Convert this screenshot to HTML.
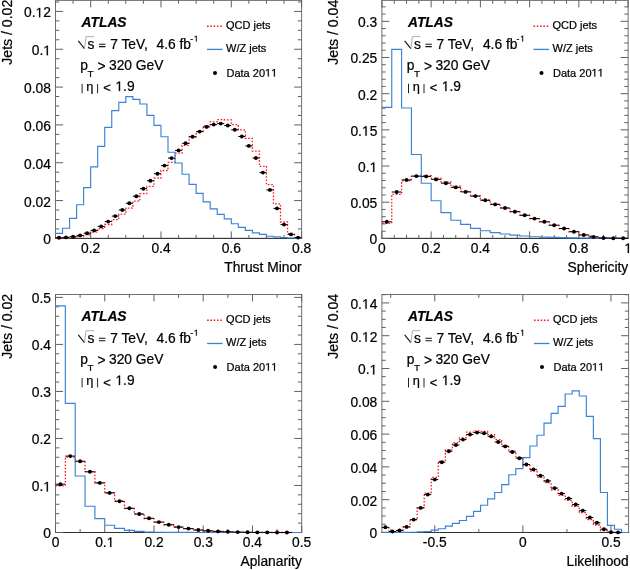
<!DOCTYPE html><html><head><meta charset="utf-8"><style>html,body{margin:0;padding:0;background:#fff;overflow:hidden}svg{display:block;will-change:transform}text{stroke:#000;stroke-width:0.22px}text.b{stroke-width:0.2px}</style></head><body>
<svg width="630" height="570" viewBox="0 0 630 570" font-family='"Liberation Sans", sans-serif'>
<rect width="630" height="570" fill="#fff"/>
<rect x="55.5" y="0.4" width="246.1" height="238" fill="none" stroke="#707070" stroke-width="1"/>
<path d="M55 238.4 H302.1" stroke="#303030" stroke-width="1"/>
<path d="M55.5 238.4 h7.5 M301.6 238.4 h-7.5 M55.5 228.94 h3.8 M301.6 228.94 h-3.8 M55.5 219.49 h3.8 M301.6 219.49 h-3.8 M55.5 210.03 h3.8 M301.6 210.03 h-3.8 M55.5 200.57 h7.5 M301.6 200.57 h-7.5 M55.5 191.11 h3.8 M301.6 191.11 h-3.8 M55.5 181.66 h3.8 M301.6 181.66 h-3.8 M55.5 172.2 h3.8 M301.6 172.2 h-3.8 M55.5 162.74 h7.5 M301.6 162.74 h-7.5 M55.5 153.28 h3.8 M301.6 153.28 h-3.8 M55.5 143.83 h3.8 M301.6 143.83 h-3.8 M55.5 134.37 h3.8 M301.6 134.37 h-3.8 M55.5 124.91 h7.5 M301.6 124.91 h-7.5 M55.5 115.45 h3.8 M301.6 115.45 h-3.8 M55.5 106 h3.8 M301.6 106 h-3.8 M55.5 96.54 h3.8 M301.6 96.54 h-3.8 M55.5 87.08 h7.5 M301.6 87.08 h-7.5 M55.5 77.62 h3.8 M301.6 77.62 h-3.8 M55.5 68.17 h3.8 M301.6 68.17 h-3.8 M55.5 58.71 h3.8 M301.6 58.71 h-3.8 M55.5 49.25 h7.5 M301.6 49.25 h-7.5 M55.5 39.79 h3.8 M301.6 39.79 h-3.8 M55.5 30.34 h3.8 M301.6 30.34 h-3.8 M55.5 20.88 h3.8 M301.6 20.88 h-3.8 M55.5 11.42 h7.5 M301.6 11.42 h-7.5 M55.5 1.96 h3.8 M301.6 1.96 h-3.8 M55.5 238.4 v-3.4 M55.5 0.4 v3.4 M73.08 238.4 v-3.4 M73.08 0.4 v3.4 M90.66 238.4 v-7 M90.66 0.4 v7 M108.24 238.4 v-3.4 M108.24 0.4 v3.4 M125.81 238.4 v-3.4 M125.81 0.4 v3.4 M143.39 238.4 v-3.4 M143.39 0.4 v3.4 M160.97 238.4 v-7 M160.97 0.4 v7 M178.55 238.4 v-3.4 M178.55 0.4 v3.4 M196.13 238.4 v-3.4 M196.13 0.4 v3.4 M213.71 238.4 v-3.4 M213.71 0.4 v3.4 M231.29 238.4 v-7 M231.29 0.4 v7 M248.86 238.4 v-3.4 M248.86 0.4 v3.4 M266.44 238.4 v-3.4 M266.44 0.4 v3.4 M284.02 238.4 v-3.4 M284.02 0.4 v3.4 M301.6 238.4 v-7 M301.6 0.4 v7 " stroke="#606060" stroke-width="1" fill="none"/>
<path d="M55.5 238.2 V238.2 H62.53 V237.9 H69.56 V237.3 H76.59 V236.5 H83.63 V234.9 H90.66 V232.1 H97.69 V228.6 H104.72 V224.5 H111.75 V219.7 H118.78 V214.2 H125.81 V208.1 H132.85 V201.2 H139.88 V193.7 H146.91 V186.4 H153.94 V178.2 H160.97 V170.5 H168 V162.3 H175.03 V153.2 H182.07 V145.4 H189.1 V137 H196.13 V131.7 H203.16 V126 H210.19 V121.8 H217.22 V119.6 H224.25 V119.9 H231.29 V124.6 H238.32 V129.9 H245.35 V138.3 H252.38 V151.2 H259.41 V166.3 H266.44 V184.6 H273.47 V203.8 H280.51 V222 H287.54 V233.7 H294.57 V238.2 H301.6" fill="none" stroke="#ff1a1a" stroke-width="1.3" stroke-dasharray="1.6 1.7"/>
<path d="M55.5 233.4 V233.4 H62.53 V228.2 H69.56 V218.3 H76.59 V204.7 H83.63 V187.6 H90.66 V166.9 H97.69 V146.4 H104.72 V127.3 H111.75 V110.6 H118.78 V102.4 H125.81 V96.6 H132.85 V99.4 H139.88 V104 H146.91 V115.3 H153.94 V125.4 H160.97 V136.7 H168 V152.2 H175.03 V163 H182.07 V174.2 H189.1 V184.3 H196.13 V193.4 H203.16 V201.8 H210.19 V208.9 H217.22 V214.4 H224.25 V218.9 H231.29 V223.7 H238.32 V227.4 H245.35 V230.4 H252.38 V232.8 H259.41 V234.4 H266.44 V236.2 H273.47 V236.9 H280.51 V237.5 H287.54 V238 H294.57 V238.4 H301.6 V238.4" fill="none" stroke="#3b82d6" stroke-width="1.15"/>
<path d="M55.5 237.8 H62.53" stroke="#000" stroke-width="1"/>
<circle cx="59.02" cy="237.8" r="1.95" fill="#000"/>
<path d="M62.53 237.4 H69.56" stroke="#000" stroke-width="1"/>
<circle cx="66.05" cy="237.4" r="1.95" fill="#000"/>
<path d="M69.56 236.7 H76.59" stroke="#000" stroke-width="1"/>
<circle cx="73.08" cy="236.7" r="1.95" fill="#000"/>
<path d="M76.59 235.4 H83.63" stroke="#000" stroke-width="1"/>
<circle cx="80.11" cy="235.4" r="1.95" fill="#000"/>
<path d="M83.63 233.2 H90.66" stroke="#000" stroke-width="1"/>
<circle cx="87.14" cy="233.2" r="1.95" fill="#000"/>
<path d="M90.66 230.4 H97.69" stroke="#000" stroke-width="1"/>
<circle cx="94.17" cy="230.4" r="1.95" fill="#000"/>
<path d="M97.69 226.4 H104.72" stroke="#000" stroke-width="1"/>
<circle cx="101.2" cy="226.4" r="1.95" fill="#000"/>
<path d="M104.72 221.6 H111.75" stroke="#000" stroke-width="1"/>
<circle cx="108.24" cy="221.6" r="1.95" fill="#000"/>
<path d="M111.75 216.1 H118.78" stroke="#000" stroke-width="1"/>
<circle cx="115.27" cy="216.1" r="1.95" fill="#000"/>
<path d="M118.78 210 H125.81" stroke="#000" stroke-width="1"/>
<circle cx="122.3" cy="210" r="1.95" fill="#000"/>
<path d="M125.81 203.2 H132.85" stroke="#000" stroke-width="1"/>
<circle cx="129.33" cy="203.2" r="1.95" fill="#000"/>
<path d="M132.85 196.2 H139.88" stroke="#000" stroke-width="1"/>
<circle cx="136.36" cy="196.2" r="1.95" fill="#000"/>
<path d="M139.88 188.7 H146.91" stroke="#000" stroke-width="1"/>
<circle cx="143.39" cy="188.7" r="1.95" fill="#000"/>
<path d="M146.91 180.8 H153.94" stroke="#000" stroke-width="1"/>
<circle cx="150.42" cy="180.8" r="1.95" fill="#000"/>
<path d="M153.94 173.7 H160.97" stroke="#000" stroke-width="1"/>
<circle cx="157.46" cy="173.7" r="1.95" fill="#000"/>
<path d="M160.97 165.6 H168" stroke="#000" stroke-width="1"/>
<circle cx="164.49" cy="165.6" r="1.95" fill="#000"/>
<path d="M168 158.1 H175.03" stroke="#000" stroke-width="1"/>
<circle cx="171.52" cy="158.1" r="1.95" fill="#000"/>
<path d="M175.03 150.4 H182.07" stroke="#000" stroke-width="1"/>
<circle cx="178.55" cy="150.4" r="1.95" fill="#000"/>
<path d="M182.07 143.3 H189.1" stroke="#000" stroke-width="1"/>
<circle cx="185.58" cy="143.3" r="1.95" fill="#000"/>
<path d="M189.1 136.7 H196.13" stroke="#000" stroke-width="1"/>
<circle cx="192.61" cy="136.7" r="1.95" fill="#000"/>
<path d="M196.13 131.6 H203.16" stroke="#000" stroke-width="1"/>
<circle cx="199.64" cy="131.6" r="1.95" fill="#000"/>
<path d="M203.16 126.9 H210.19" stroke="#000" stroke-width="1"/>
<circle cx="206.68" cy="126.9" r="1.95" fill="#000"/>
<path d="M210.19 124.6 H217.22" stroke="#000" stroke-width="1"/>
<circle cx="213.71" cy="124.6" r="1.95" fill="#000"/>
<path d="M217.22 123.6 H224.25" stroke="#000" stroke-width="1"/>
<circle cx="220.74" cy="123.6" r="1.95" fill="#000"/>
<path d="M224.25 125.5 H231.29" stroke="#000" stroke-width="1"/>
<circle cx="227.77" cy="125.5" r="1.95" fill="#000"/>
<path d="M231.29 129.8 H238.32" stroke="#000" stroke-width="1"/>
<circle cx="234.8" cy="129.8" r="1.95" fill="#000"/>
<path d="M238.32 136.5 H245.35" stroke="#000" stroke-width="1"/>
<circle cx="241.83" cy="136.5" r="1.95" fill="#000"/>
<path d="M245.35 145.9 H252.38" stroke="#000" stroke-width="1"/>
<circle cx="248.86" cy="145.9" r="1.95" fill="#000"/>
<path d="M252.38 158 H259.41" stroke="#000" stroke-width="1"/>
<circle cx="255.9" cy="158" r="1.95" fill="#000"/>
<path d="M259.41 172.6 H266.44" stroke="#000" stroke-width="1"/>
<circle cx="262.93" cy="172.6" r="1.95" fill="#000"/>
<path d="M266.44 189.9 H273.47" stroke="#000" stroke-width="1"/>
<circle cx="269.96" cy="189.9" r="1.95" fill="#000"/>
<path d="M273.47 208.4 H280.51" stroke="#000" stroke-width="1"/>
<circle cx="276.99" cy="208.4" r="1.95" fill="#000"/>
<path d="M280.51 224.6 H287.54" stroke="#000" stroke-width="1"/>
<circle cx="284.02" cy="224.6" r="1.95" fill="#000"/>
<path d="M287.54 234.4 H294.57" stroke="#000" stroke-width="1"/>
<circle cx="291.05" cy="234.4" r="1.95" fill="#000"/>
<path d="M294.57 237.6 H301.6" stroke="#000" stroke-width="1"/>
<circle cx="298.08" cy="237.6" r="1.95" fill="#000"/>
<text x="50.9" y="244.35" font-size="13.8" text-anchor="end">0</text>
<text x="50.9" y="206.52" font-size="13.8" text-anchor="end">0.02</text>
<text x="50.9" y="168.69" font-size="13.8" text-anchor="end">0.04</text>
<text x="50.9" y="130.86" font-size="13.8" text-anchor="end">0.06</text>
<text x="50.9" y="93.03" font-size="13.8" text-anchor="end">0.08</text>
<text x="31.72" y="55.2" font-size="13.8">0.</text>
<path transform="translate(43.23 55.2) scale(0.006738 -0.006738)" d="M515 0V1237L197 1010V1180L530 1409H696V0Z" stroke="#000" stroke-width="0.22" vector-effect="non-scaling-stroke"/>
<text x="24.04" y="17.37" font-size="13.8">0.</text>
<path transform="translate(35.55 17.37) scale(0.006738 -0.006738)" d="M515 0V1237L197 1010V1180L530 1409H696V0Z" stroke="#000" stroke-width="0.22" vector-effect="non-scaling-stroke"/>
<text x="43.23" y="17.37" font-size="13.8">2</text>
<text x="90.66" y="253" font-size="13.8" text-anchor="middle">0.2</text>
<text x="160.97" y="253" font-size="13.8" text-anchor="middle">0.4</text>
<text x="231.29" y="253" font-size="13.8" text-anchor="middle">0.6</text>
<text x="301.6" y="253" font-size="13.8" text-anchor="middle">0.8</text>
<text x="301.7" y="272" font-size="13.8" text-anchor="end">Thrust Minor</text>
<text transform="translate(11.7 -0.3) rotate(-90)" font-size="14.1" text-anchor="end">Jets / 0.02</text>
<text x="81.6" y="27" class="b" font-size="13.8" font-weight="bold" font-style="italic">ATLAS</text>
<path d="M78.3 40.8 L84.5 48.6" stroke="#111" stroke-width="1.1" fill="none"/>
<path d="M84.5 48.6 L86 36.6 H94" stroke="#999" stroke-width="0.8" fill="none"/>
<text x="87.5" y="48.6" font-size="13.8">s</text>
<path d="M99 44.2 H105.4 M99 46.6 H105.4" stroke="#111" stroke-width="1.05" fill="none"/>
<text x="110.13" y="48.6" font-size="13.8">7 TeV,</text>
<text x="156.5" y="48.6" font-size="13.8">4.6 fb</text>
<text x="190.2" y="41.6" font-size="8.5">-</text>
<path transform="translate(193.8 41.6) scale(0.004150 -0.004150)" d="M515 0V1237L197 1010V1180L530 1409H696V0Z" stroke="#000" stroke-width="0.22" vector-effect="non-scaling-stroke"/>
<text x="80.3" y="69.6" font-size="13.8">p</text>
<text x="87.5" y="76.7" font-size="9.9">T</text>
<text x="97.6" y="71" font-size="13.8">&gt;</text>
<text x="109" y="69.6" font-size="13.8">320 GeV</text>
<path d="M82.1 83.8 V93.3 M97.6 84 V93.3" stroke="#222" stroke-width="1" fill="none"/>
<text x="86.3" y="90.8" font-size="12.8" stroke="#000" stroke-width="0.25">η</text>
<text x="103.3" y="92.4" font-size="13">&lt;</text>
<path transform="translate(115.4 91) scale(0.006738 -0.006738)" d="M515 0V1237L197 1010V1180L530 1409H696V0Z" stroke="#000" stroke-width="0.22" vector-effect="non-scaling-stroke"/>
<text x="123.07" y="91" font-size="13.8">.9</text>
<path d="M207 26.2 h15.5" stroke="#ff1a1a" stroke-width="1.4" stroke-dasharray="1.6 1.7"/>
<path d="M207 49.4 h15.5" stroke="#3b82d6" stroke-width="1.3"/>
<circle cx="215" cy="73" r="2" fill="#000"/>
<text x="226" y="28.9" font-size="11">QCD jets</text>
<text x="226" y="51.9" font-size="11">W/Z jets</text>
<text x="226.5" y="76.6" font-size="11">Data 20</text>
<path transform="translate(265.03 76.6) scale(0.005371 -0.005371)" d="M515 0V1237L197 1010V1180L530 1409H696V0Z" stroke="#000" stroke-width="0.22" vector-effect="non-scaling-stroke"/>
<path transform="translate(271.14 76.6) scale(0.005371 -0.005371)" d="M515 0V1237L197 1010V1180L530 1409H696V0Z" stroke="#000" stroke-width="0.22" vector-effect="non-scaling-stroke"/>
<rect x="381.9" y="0.4" width="246.2" height="238" fill="none" stroke="#707070" stroke-width="1"/>
<path d="M381.4 238.4 H628.6" stroke="#303030" stroke-width="1"/>
<path d="M381.9 238.4 h7.5 M628.1 238.4 h-7.5 M381.9 231.16 h3.8 M628.1 231.16 h-3.8 M381.9 223.93 h3.8 M628.1 223.93 h-3.8 M381.9 216.69 h3.8 M628.1 216.69 h-3.8 M381.9 209.46 h3.8 M628.1 209.46 h-3.8 M381.9 202.22 h7.5 M628.1 202.22 h-7.5 M381.9 194.98 h3.8 M628.1 194.98 h-3.8 M381.9 187.75 h3.8 M628.1 187.75 h-3.8 M381.9 180.51 h3.8 M628.1 180.51 h-3.8 M381.9 173.28 h3.8 M628.1 173.28 h-3.8 M381.9 166.04 h7.5 M628.1 166.04 h-7.5 M381.9 158.8 h3.8 M628.1 158.8 h-3.8 M381.9 151.57 h3.8 M628.1 151.57 h-3.8 M381.9 144.33 h3.8 M628.1 144.33 h-3.8 M381.9 137.1 h3.8 M628.1 137.1 h-3.8 M381.9 129.86 h7.5 M628.1 129.86 h-7.5 M381.9 122.62 h3.8 M628.1 122.62 h-3.8 M381.9 115.39 h3.8 M628.1 115.39 h-3.8 M381.9 108.15 h3.8 M628.1 108.15 h-3.8 M381.9 100.92 h3.8 M628.1 100.92 h-3.8 M381.9 93.68 h7.5 M628.1 93.68 h-7.5 M381.9 86.44 h3.8 M628.1 86.44 h-3.8 M381.9 79.21 h3.8 M628.1 79.21 h-3.8 M381.9 71.97 h3.8 M628.1 71.97 h-3.8 M381.9 64.74 h3.8 M628.1 64.74 h-3.8 M381.9 57.5 h7.5 M628.1 57.5 h-7.5 M381.9 50.26 h3.8 M628.1 50.26 h-3.8 M381.9 43.03 h3.8 M628.1 43.03 h-3.8 M381.9 35.79 h3.8 M628.1 35.79 h-3.8 M381.9 28.56 h3.8 M628.1 28.56 h-3.8 M381.9 21.32 h7.5 M628.1 21.32 h-7.5 M381.9 14.08 h3.8 M628.1 14.08 h-3.8 M381.9 6.85 h3.8 M628.1 6.85 h-3.8 M381.9 238.4 v-7 M381.9 0.4 v7 M394.21 238.4 v-3.4 M394.21 0.4 v3.4 M406.52 238.4 v-3.4 M406.52 0.4 v3.4 M418.83 238.4 v-3.4 M418.83 0.4 v3.4 M431.14 238.4 v-7 M431.14 0.4 v7 M443.45 238.4 v-3.4 M443.45 0.4 v3.4 M455.76 238.4 v-3.4 M455.76 0.4 v3.4 M468.07 238.4 v-3.4 M468.07 0.4 v3.4 M480.38 238.4 v-7 M480.38 0.4 v7 M492.69 238.4 v-3.4 M492.69 0.4 v3.4 M505 238.4 v-3.4 M505 0.4 v3.4 M517.31 238.4 v-3.4 M517.31 0.4 v3.4 M529.62 238.4 v-7 M529.62 0.4 v7 M541.93 238.4 v-3.4 M541.93 0.4 v3.4 M554.24 238.4 v-3.4 M554.24 0.4 v3.4 M566.55 238.4 v-3.4 M566.55 0.4 v3.4 M578.86 238.4 v-7 M578.86 0.4 v7 M591.17 238.4 v-3.4 M591.17 0.4 v3.4 M603.48 238.4 v-3.4 M603.48 0.4 v3.4 M615.79 238.4 v-3.4 M615.79 0.4 v3.4 M628.1 238.4 v-7 M628.1 0.4 v7 " stroke="#606060" stroke-width="1" fill="none"/>
<path d="M381.9 223.4 V223.4 H391.75 V194.4 H401.6 V180.8 H411.44 V176.4 H421.29 V175.7 H431.14 V178.2 H440.99 V181.8 H450.84 V186.1 H460.68 V191.4 H470.53 V195.8 H480.38 V200 H490.23 V204.2 H500.08 V207.8 H509.92 V211.5 H519.77 V215.2 H529.62 V218.6 H539.47 V221.9 H549.32 V225.3 H559.16 V228.7 H569.01 V231.9 H578.86 V234.9 H588.71 V236.9 H598.56 V237.9 H608.4 V238.2 H618.25 V238.4 H628.1" fill="none" stroke="#ff1a1a" stroke-width="1.3" stroke-dasharray="1.6 1.7"/>
<path d="M381.9 107.3 V107.3 H391.75 V49.4 H401.6 V108 H411.44 V154.5 H421.29 V183.2 H431.14 V200.7 H440.99 V212.6 H450.84 V220.2 H460.68 V224.3 H470.53 V228.3 H480.38 V230.7 H490.23 V232.6 H500.08 V234 H509.92 V235.1 H519.77 V236 H529.62 V236.7 H539.47 V237.1 H549.32 V237.4 H559.16 V237.6 H569.01 V237.8 H578.86 V238 H588.71 V238.1 H598.56 V238.2 H608.4 V238.3 H618.25 V238.4 H628.1 V238.4" fill="none" stroke="#3b82d6" stroke-width="1.15"/>
<path d="M381.9 221.8 H391.75" stroke="#000" stroke-width="1"/>
<circle cx="386.82" cy="221.8" r="1.95" fill="#000"/>
<path d="M391.75 192 H401.6" stroke="#000" stroke-width="1"/>
<circle cx="396.67" cy="192" r="1.95" fill="#000"/>
<path d="M401.6 179.9 H411.44" stroke="#000" stroke-width="1"/>
<circle cx="406.52" cy="179.9" r="1.95" fill="#000"/>
<path d="M411.44 176.1 H421.29" stroke="#000" stroke-width="1"/>
<circle cx="416.37" cy="176.1" r="1.95" fill="#000"/>
<path d="M421.29 176.4 H431.14" stroke="#000" stroke-width="1"/>
<circle cx="426.22" cy="176.4" r="1.95" fill="#000"/>
<path d="M431.14 179.4 H440.99" stroke="#000" stroke-width="1"/>
<circle cx="436.06" cy="179.4" r="1.95" fill="#000"/>
<path d="M440.99 183.2 H450.84" stroke="#000" stroke-width="1"/>
<circle cx="445.91" cy="183.2" r="1.95" fill="#000"/>
<path d="M450.84 187.4 H460.68" stroke="#000" stroke-width="1"/>
<circle cx="455.76" cy="187.4" r="1.95" fill="#000"/>
<path d="M460.68 191.9 H470.53" stroke="#000" stroke-width="1"/>
<circle cx="465.61" cy="191.9" r="1.95" fill="#000"/>
<path d="M470.53 196.1 H480.38" stroke="#000" stroke-width="1"/>
<circle cx="475.46" cy="196.1" r="1.95" fill="#000"/>
<path d="M480.38 200.3 H490.23" stroke="#000" stroke-width="1"/>
<circle cx="485.3" cy="200.3" r="1.95" fill="#000"/>
<path d="M490.23 204.4 H500.08" stroke="#000" stroke-width="1"/>
<circle cx="495.15" cy="204.4" r="1.95" fill="#000"/>
<path d="M500.08 208 H509.92" stroke="#000" stroke-width="1"/>
<circle cx="505" cy="208" r="1.95" fill="#000"/>
<path d="M509.92 211.7 H519.77" stroke="#000" stroke-width="1"/>
<circle cx="514.85" cy="211.7" r="1.95" fill="#000"/>
<path d="M519.77 215.3 H529.62" stroke="#000" stroke-width="1"/>
<circle cx="524.7" cy="215.3" r="1.95" fill="#000"/>
<path d="M529.62 218.6 H539.47" stroke="#000" stroke-width="1"/>
<circle cx="534.54" cy="218.6" r="1.95" fill="#000"/>
<path d="M539.47 221.8 H549.32" stroke="#000" stroke-width="1"/>
<circle cx="544.39" cy="221.8" r="1.95" fill="#000"/>
<path d="M549.32 225.2 H559.16" stroke="#000" stroke-width="1"/>
<circle cx="554.24" cy="225.2" r="1.95" fill="#000"/>
<path d="M559.16 228.5 H569.01" stroke="#000" stroke-width="1"/>
<circle cx="564.09" cy="228.5" r="1.95" fill="#000"/>
<path d="M569.01 231.7 H578.86" stroke="#000" stroke-width="1"/>
<circle cx="573.94" cy="231.7" r="1.95" fill="#000"/>
<path d="M578.86 235 H588.71" stroke="#000" stroke-width="1"/>
<circle cx="583.78" cy="235" r="1.95" fill="#000"/>
<path d="M588.71 236.9 H598.56" stroke="#000" stroke-width="1"/>
<circle cx="593.63" cy="236.9" r="1.95" fill="#000"/>
<path d="M598.56 238 H608.4" stroke="#000" stroke-width="1"/>
<circle cx="603.48" cy="238" r="1.95" fill="#000"/>
<path d="M608.4 238.2 H618.25" stroke="#000" stroke-width="1"/>
<circle cx="613.33" cy="238.2" r="1.95" fill="#000"/>
<path d="M618.25 238.3 H628.1" stroke="#000" stroke-width="1"/>
<circle cx="623.18" cy="238.3" r="1.95" fill="#000"/>
<text x="377.3" y="244.35" font-size="13.8" text-anchor="end">0</text>
<text x="377.3" y="208.17" font-size="13.8" text-anchor="end">0.05</text>
<text x="358.12" y="171.99" font-size="13.8">0.</text>
<path transform="translate(369.63 171.99) scale(0.006738 -0.006738)" d="M515 0V1237L197 1010V1180L530 1409H696V0Z" stroke="#000" stroke-width="0.22" vector-effect="non-scaling-stroke"/>
<text x="350.44" y="135.81" font-size="13.8">0.</text>
<path transform="translate(361.95 135.81) scale(0.006738 -0.006738)" d="M515 0V1237L197 1010V1180L530 1409H696V0Z" stroke="#000" stroke-width="0.22" vector-effect="non-scaling-stroke"/>
<text x="369.63" y="135.81" font-size="13.8">5</text>
<text x="377.3" y="99.63" font-size="13.8" text-anchor="end">0.2</text>
<text x="377.3" y="63.45" font-size="13.8" text-anchor="end">0.25</text>
<text x="377.3" y="27.27" font-size="13.8" text-anchor="end">0.3</text>
<text x="381.9" y="253" font-size="13.8" text-anchor="middle">0</text>
<text x="431.14" y="253" font-size="13.8" text-anchor="middle">0.2</text>
<text x="480.38" y="253" font-size="13.8" text-anchor="middle">0.4</text>
<text x="529.62" y="253" font-size="13.8" text-anchor="middle">0.6</text>
<text x="578.86" y="253" font-size="13.8" text-anchor="middle">0.8</text>
<path transform="translate(624.26 253) scale(0.006738 -0.006738)" d="M515 0V1237L197 1010V1180L530 1409H696V0Z" stroke="#000" stroke-width="0.22" vector-effect="non-scaling-stroke"/>
<text x="628.2" y="272" font-size="13.8" text-anchor="end">Sphericity</text>
<text transform="translate(338.1 -0.3) rotate(-90)" font-size="14.1" text-anchor="end">Jets / 0.04</text>
<text x="408" y="27" class="b" font-size="13.8" font-weight="bold" font-style="italic">ATLAS</text>
<path d="M404.7 40.8 L410.9 48.6" stroke="#111" stroke-width="1.1" fill="none"/>
<path d="M410.9 48.6 L412.4 36.6 H420.4" stroke="#999" stroke-width="0.8" fill="none"/>
<text x="413.9" y="48.6" font-size="13.8">s</text>
<path d="M425.4 44.2 H431.8 M425.4 46.6 H431.8" stroke="#111" stroke-width="1.05" fill="none"/>
<text x="436.53" y="48.6" font-size="13.8">7 TeV,</text>
<text x="482.9" y="48.6" font-size="13.8">4.6 fb</text>
<text x="516.6" y="41.6" font-size="8.5">-</text>
<path transform="translate(520.2 41.6) scale(0.004150 -0.004150)" d="M515 0V1237L197 1010V1180L530 1409H696V0Z" stroke="#000" stroke-width="0.22" vector-effect="non-scaling-stroke"/>
<text x="406.7" y="69.6" font-size="13.8">p</text>
<text x="413.9" y="76.7" font-size="9.9">T</text>
<text x="424" y="71" font-size="13.8">&gt;</text>
<text x="435.4" y="69.6" font-size="13.8">320 GeV</text>
<path d="M408.5 83.8 V93.3 M424 84 V93.3" stroke="#222" stroke-width="1" fill="none"/>
<text x="412.7" y="90.8" font-size="12.8" stroke="#000" stroke-width="0.25">η</text>
<text x="429.7" y="92.4" font-size="13">&lt;</text>
<path transform="translate(441.8 91) scale(0.006738 -0.006738)" d="M515 0V1237L197 1010V1180L530 1409H696V0Z" stroke="#000" stroke-width="0.22" vector-effect="non-scaling-stroke"/>
<text x="449.47" y="91" font-size="13.8">.9</text>
<path d="M533.5 26.2 h15.5" stroke="#ff1a1a" stroke-width="1.4" stroke-dasharray="1.6 1.7"/>
<path d="M533.5 49.4 h15.5" stroke="#3b82d6" stroke-width="1.3"/>
<circle cx="541.5" cy="73" r="2" fill="#000"/>
<text x="552.5" y="28.9" font-size="11">QCD jets</text>
<text x="552.5" y="51.9" font-size="11">W/Z jets</text>
<text x="553" y="76.6" font-size="11">Data 20</text>
<path transform="translate(591.53 76.6) scale(0.005371 -0.005371)" d="M515 0V1237L197 1010V1180L530 1409H696V0Z" stroke="#000" stroke-width="0.22" vector-effect="non-scaling-stroke"/>
<path transform="translate(597.64 76.6) scale(0.005371 -0.005371)" d="M515 0V1237L197 1010V1180L530 1409H696V0Z" stroke="#000" stroke-width="0.22" vector-effect="non-scaling-stroke"/>
<rect x="55.5" y="294.5" width="246.2" height="238" fill="none" stroke="#707070" stroke-width="1"/>
<path d="M55 532.5 H302.2" stroke="#303030" stroke-width="1"/>
<path d="M55.5 532.5 h7.5 M301.7 532.5 h-7.5 M55.5 523.1 h3.8 M301.7 523.1 h-3.8 M55.5 513.69 h3.8 M301.7 513.69 h-3.8 M55.5 504.29 h3.8 M301.7 504.29 h-3.8 M55.5 494.88 h3.8 M301.7 494.88 h-3.8 M55.5 485.48 h7.5 M301.7 485.48 h-7.5 M55.5 476.08 h3.8 M301.7 476.08 h-3.8 M55.5 466.67 h3.8 M301.7 466.67 h-3.8 M55.5 457.27 h3.8 M301.7 457.27 h-3.8 M55.5 447.86 h3.8 M301.7 447.86 h-3.8 M55.5 438.46 h7.5 M301.7 438.46 h-7.5 M55.5 429.06 h3.8 M301.7 429.06 h-3.8 M55.5 419.65 h3.8 M301.7 419.65 h-3.8 M55.5 410.25 h3.8 M301.7 410.25 h-3.8 M55.5 400.84 h3.8 M301.7 400.84 h-3.8 M55.5 391.44 h7.5 M301.7 391.44 h-7.5 M55.5 382.04 h3.8 M301.7 382.04 h-3.8 M55.5 372.63 h3.8 M301.7 372.63 h-3.8 M55.5 363.23 h3.8 M301.7 363.23 h-3.8 M55.5 353.82 h3.8 M301.7 353.82 h-3.8 M55.5 344.42 h7.5 M301.7 344.42 h-7.5 M55.5 335.02 h3.8 M301.7 335.02 h-3.8 M55.5 325.61 h3.8 M301.7 325.61 h-3.8 M55.5 316.21 h3.8 M301.7 316.21 h-3.8 M55.5 306.8 h3.8 M301.7 306.8 h-3.8 M55.5 297.4 h7.5 M301.7 297.4 h-7.5 M55.5 532.5 v-7 M55.5 294.5 v7 M80.12 532.5 v-3.4 M80.12 294.5 v3.4 M104.74 532.5 v-7 M104.74 294.5 v7 M129.36 532.5 v-3.4 M129.36 294.5 v3.4 M153.98 532.5 v-7 M153.98 294.5 v7 M178.6 532.5 v-3.4 M178.6 294.5 v3.4 M203.22 532.5 v-7 M203.22 294.5 v7 M227.84 532.5 v-3.4 M227.84 294.5 v3.4 M252.46 532.5 v-7 M252.46 294.5 v7 M277.08 532.5 v-3.4 M277.08 294.5 v3.4 M301.7 532.5 v-7 M301.7 294.5 v7 " stroke="#606060" stroke-width="1" fill="none"/>
<path d="M55.5 485.9 V485.9 H65.35 V457.1 H75.2 V461.6 H85.04 V471.6 H94.89 V482.8 H104.74 V492.9 H114.59 V501 H124.44 V508.3 H134.28 V514.2 H144.13 V518.6 H153.98 V522.2 H163.83 V524.9 H173.68 V527.2 H183.52 V528.8 H193.37 V530.1 H203.22 V531 H213.07 V531.5 H222.92 V531.9 H232.76 V532.2 H242.61 V532.3 H252.46 V532.4 H262.31 V532.5 H272.16 V532.5 H282 V532.5 H291.85 V532.5" fill="none" stroke="#ff1a1a" stroke-width="1.3" stroke-dasharray="1.6 1.7"/>
<path d="M55.5 305.8 V305.8 H65.35 V403.3 H75.2 V476 H85.04 V506.2 H94.89 V518.6 H104.74 V525.2 H114.59 V528.4 H124.44 V530.4 H134.28 V531.4 H144.13 V532 H153.98 V532.2 H163.83 V532.3 H173.68 V532.4 H183.52 V532.4 H193.37 V532.5 H203.22 V532.5 H213.07 V532.5 H222.92 V532.5 H232.76 V532.5 H242.61 V532.5 H252.46 V532.5 H262.31 V532.5 H272.16 V532.5 H282 V532.5 H291.85 V532.5 H301.7 V532.5" fill="none" stroke="#3b82d6" stroke-width="1.15"/>
<path d="M55.5 484.2 H65.35" stroke="#000" stroke-width="1"/>
<circle cx="60.42" cy="484.2" r="1.95" fill="#000"/>
<path d="M65.35 456.1 H75.2" stroke="#000" stroke-width="1"/>
<circle cx="70.27" cy="456.1" r="1.95" fill="#000"/>
<path d="M75.2 461.2 H85.04" stroke="#000" stroke-width="1"/>
<circle cx="80.12" cy="461.2" r="1.95" fill="#000"/>
<path d="M85.04 471.8 H94.89" stroke="#000" stroke-width="1"/>
<circle cx="89.97" cy="471.8" r="1.95" fill="#000"/>
<path d="M94.89 482.9 H104.74" stroke="#000" stroke-width="1"/>
<circle cx="99.82" cy="482.9" r="1.95" fill="#000"/>
<path d="M104.74 492.9 H114.59" stroke="#000" stroke-width="1"/>
<circle cx="109.66" cy="492.9" r="1.95" fill="#000"/>
<path d="M114.59 501.3 H124.44" stroke="#000" stroke-width="1"/>
<circle cx="119.51" cy="501.3" r="1.95" fill="#000"/>
<path d="M124.44 508.3 H134.28" stroke="#000" stroke-width="1"/>
<circle cx="129.36" cy="508.3" r="1.95" fill="#000"/>
<path d="M134.28 514 H144.13" stroke="#000" stroke-width="1"/>
<circle cx="139.21" cy="514" r="1.95" fill="#000"/>
<path d="M144.13 518.3 H153.98" stroke="#000" stroke-width="1"/>
<circle cx="149.06" cy="518.3" r="1.95" fill="#000"/>
<path d="M153.98 522.1 H163.83" stroke="#000" stroke-width="1"/>
<circle cx="158.9" cy="522.1" r="1.95" fill="#000"/>
<path d="M163.83 524.7 H173.68" stroke="#000" stroke-width="1"/>
<circle cx="168.75" cy="524.7" r="1.95" fill="#000"/>
<path d="M173.68 527.1 H183.52" stroke="#000" stroke-width="1"/>
<circle cx="178.6" cy="527.1" r="1.95" fill="#000"/>
<path d="M183.52 528.6 H193.37" stroke="#000" stroke-width="1"/>
<circle cx="188.45" cy="528.6" r="1.95" fill="#000"/>
<path d="M193.37 530 H203.22" stroke="#000" stroke-width="1"/>
<circle cx="198.3" cy="530" r="1.95" fill="#000"/>
<path d="M203.22 530.8 H213.07" stroke="#000" stroke-width="1"/>
<circle cx="208.14" cy="530.8" r="1.95" fill="#000"/>
<path d="M213.07 531.4 H222.92" stroke="#000" stroke-width="1"/>
<circle cx="217.99" cy="531.4" r="1.95" fill="#000"/>
<path d="M222.92 531.8 H232.76" stroke="#000" stroke-width="1"/>
<circle cx="227.84" cy="531.8" r="1.95" fill="#000"/>
<path d="M232.76 532.1 H242.61" stroke="#000" stroke-width="1"/>
<circle cx="237.69" cy="532.1" r="1.95" fill="#000"/>
<path d="M242.61 532.3 H252.46" stroke="#000" stroke-width="1"/>
<circle cx="247.54" cy="532.3" r="1.95" fill="#000"/>
<path d="M252.46 532.4 H262.31" stroke="#000" stroke-width="1"/>
<circle cx="257.38" cy="532.4" r="1.95" fill="#000"/>
<path d="M262.31 532.4 H272.16" stroke="#000" stroke-width="1"/>
<circle cx="267.23" cy="532.4" r="1.95" fill="#000"/>
<path d="M272.16 532.5 H282" stroke="#000" stroke-width="1"/>
<circle cx="277.08" cy="532.5" r="1.95" fill="#000"/>
<path d="M282 532.5 H291.85" stroke="#000" stroke-width="1"/>
<circle cx="286.93" cy="532.5" r="1.95" fill="#000"/>
<text x="50.9" y="538.45" font-size="13.8" text-anchor="end">0</text>
<text x="31.72" y="491.43" font-size="13.8">0.</text>
<path transform="translate(43.23 491.43) scale(0.006738 -0.006738)" d="M515 0V1237L197 1010V1180L530 1409H696V0Z" stroke="#000" stroke-width="0.22" vector-effect="non-scaling-stroke"/>
<text x="50.9" y="444.41" font-size="13.8" text-anchor="end">0.2</text>
<text x="50.9" y="397.39" font-size="13.8" text-anchor="end">0.3</text>
<text x="50.9" y="350.37" font-size="13.8" text-anchor="end">0.4</text>
<text x="50.9" y="303.35" font-size="13.8" text-anchor="end">0.5</text>
<text x="55.5" y="547.1" font-size="13.8" text-anchor="middle">0</text>
<text x="95.15" y="547.1" font-size="13.8">0.</text>
<path transform="translate(106.66 547.1) scale(0.006738 -0.006738)" d="M515 0V1237L197 1010V1180L530 1409H696V0Z" stroke="#000" stroke-width="0.22" vector-effect="non-scaling-stroke"/>
<text x="153.98" y="547.1" font-size="13.8" text-anchor="middle">0.2</text>
<text x="203.22" y="547.1" font-size="13.8" text-anchor="middle">0.3</text>
<text x="252.46" y="547.1" font-size="13.8" text-anchor="middle">0.4</text>
<text x="301.7" y="547.1" font-size="13.8" text-anchor="middle">0.5</text>
<text x="301.8" y="566.1" font-size="13.8" text-anchor="end">Aplanarity</text>
<text transform="translate(11.7 293.8) rotate(-90)" font-size="14.1" text-anchor="end">Jets / 0.02</text>
<text x="81.6" y="321.1" class="b" font-size="13.8" font-weight="bold" font-style="italic">ATLAS</text>
<path d="M78.3 334.9 L84.5 342.7" stroke="#111" stroke-width="1.1" fill="none"/>
<path d="M84.5 342.7 L86 330.7 H94" stroke="#999" stroke-width="0.8" fill="none"/>
<text x="87.5" y="342.7" font-size="13.8">s</text>
<path d="M99 338.3 H105.4 M99 340.7 H105.4" stroke="#111" stroke-width="1.05" fill="none"/>
<text x="110.13" y="342.7" font-size="13.8">7 TeV,</text>
<text x="156.5" y="342.7" font-size="13.8">4.6 fb</text>
<text x="190.2" y="335.7" font-size="8.5">-</text>
<path transform="translate(193.8 335.7) scale(0.004150 -0.004150)" d="M515 0V1237L197 1010V1180L530 1409H696V0Z" stroke="#000" stroke-width="0.22" vector-effect="non-scaling-stroke"/>
<text x="80.3" y="363.7" font-size="13.8">p</text>
<text x="87.5" y="370.8" font-size="9.9">T</text>
<text x="97.6" y="365.1" font-size="13.8">&gt;</text>
<text x="109" y="363.7" font-size="13.8">320 GeV</text>
<path d="M82.1 377.9 V387.4 M97.6 378.1 V387.4" stroke="#222" stroke-width="1" fill="none"/>
<text x="86.3" y="384.9" font-size="12.8" stroke="#000" stroke-width="0.25">η</text>
<text x="103.3" y="386.5" font-size="13">&lt;</text>
<path transform="translate(115.4 385.1) scale(0.006738 -0.006738)" d="M515 0V1237L197 1010V1180L530 1409H696V0Z" stroke="#000" stroke-width="0.22" vector-effect="non-scaling-stroke"/>
<text x="123.07" y="385.1" font-size="13.8">.9</text>
<path d="M207.1 320.3 h15.5" stroke="#ff1a1a" stroke-width="1.4" stroke-dasharray="1.6 1.7"/>
<path d="M207.1 343.5 h15.5" stroke="#3b82d6" stroke-width="1.3"/>
<circle cx="215.1" cy="367.1" r="2" fill="#000"/>
<text x="226.1" y="323" font-size="11">QCD jets</text>
<text x="226.1" y="346" font-size="11">W/Z jets</text>
<text x="226.6" y="370.7" font-size="11">Data 20</text>
<path transform="translate(265.13 370.7) scale(0.005371 -0.005371)" d="M515 0V1237L197 1010V1180L530 1409H696V0Z" stroke="#000" stroke-width="0.22" vector-effect="non-scaling-stroke"/>
<path transform="translate(271.24 370.7) scale(0.005371 -0.005371)" d="M515 0V1237L197 1010V1180L530 1409H696V0Z" stroke="#000" stroke-width="0.22" vector-effect="non-scaling-stroke"/>
<rect x="381.9" y="294.5" width="246.7" height="238" fill="none" stroke="#707070" stroke-width="1"/>
<path d="M381.4 532.5 H629.1" stroke="#303030" stroke-width="1"/>
<path d="M381.9 532.5 h7.5 M628.6 532.5 h-7.5 M381.9 524.3 h3.8 M628.6 524.3 h-3.8 M381.9 516.1 h3.8 M628.6 516.1 h-3.8 M381.9 507.9 h3.8 M628.6 507.9 h-3.8 M381.9 499.7 h7.5 M628.6 499.7 h-7.5 M381.9 491.5 h3.8 M628.6 491.5 h-3.8 M381.9 483.3 h3.8 M628.6 483.3 h-3.8 M381.9 475.1 h3.8 M628.6 475.1 h-3.8 M381.9 466.9 h7.5 M628.6 466.9 h-7.5 M381.9 458.7 h3.8 M628.6 458.7 h-3.8 M381.9 450.5 h3.8 M628.6 450.5 h-3.8 M381.9 442.3 h3.8 M628.6 442.3 h-3.8 M381.9 434.1 h7.5 M628.6 434.1 h-7.5 M381.9 425.9 h3.8 M628.6 425.9 h-3.8 M381.9 417.7 h3.8 M628.6 417.7 h-3.8 M381.9 409.5 h3.8 M628.6 409.5 h-3.8 M381.9 401.3 h7.5 M628.6 401.3 h-7.5 M381.9 393.1 h3.8 M628.6 393.1 h-3.8 M381.9 384.9 h3.8 M628.6 384.9 h-3.8 M381.9 376.7 h3.8 M628.6 376.7 h-3.8 M381.9 368.5 h7.5 M628.6 368.5 h-7.5 M381.9 360.3 h3.8 M628.6 360.3 h-3.8 M381.9 352.1 h3.8 M628.6 352.1 h-3.8 M381.9 343.9 h3.8 M628.6 343.9 h-3.8 M381.9 335.7 h7.5 M628.6 335.7 h-7.5 M381.9 327.5 h3.8 M628.6 327.5 h-3.8 M381.9 319.3 h3.8 M628.6 319.3 h-3.8 M381.9 311.1 h3.8 M628.6 311.1 h-3.8 M381.9 302.9 h7.5 M628.6 302.9 h-7.5 M381.9 294.7 h3.8 M628.6 294.7 h-3.8 M390.71 532.5 v-3.4 M390.71 294.5 v3.4 M434.76 532.5 v-7 M434.76 294.5 v7 M478.82 532.5 v-3.4 M478.82 294.5 v3.4 M522.87 532.5 v-7 M522.87 294.5 v7 M566.93 532.5 v-3.4 M566.93 294.5 v3.4 M610.98 532.5 v-7 M610.98 294.5 v7 " stroke="#606060" stroke-width="1" fill="none"/>
<path d="M381.9 527.6 V527.6 H388.95 V531.9 H396 V530.8 H403.05 V526.9 H410.09 V519.8 H417.14 V507.6 H424.19 V493.2 H431.24 V477.5 H438.29 V461.3 H445.34 V449.8 H452.39 V442.7 H459.43 V437.8 H466.48 V432.2 H473.53 V430.9 H480.58 V431.5 H487.63 V434.7 H494.68 V439.6 H501.73 V445.7 H508.77 V451.2 H515.82 V457.6 H522.87 V465.5 H529.92 V471 H536.97 V477.2 H544.02 V482.7 H551.07 V489.8 H558.11 V495.4 H565.16 V500.4 H572.21 V506.4 H579.26 V512.7 H586.31 V519.5 H593.36 V525 H600.41 V530.5 H607.45 V532.3 H614.5 V532.5 H621.55 V532.5" fill="none" stroke="#ff1a1a" stroke-width="1.3" stroke-dasharray="1.6 1.7"/>
<path d="M381.9 532.4 V532.4 H388.95 V532.4 H396 V532.4 H403.05 V532.3 H410.09 V532.2 H417.14 V531.9 H424.19 V531.5 H431.24 V530.1 H438.29 V528.7 H445.34 V526.1 H452.39 V523.3 H459.43 V520.5 H466.48 V516.3 H473.53 V511.3 H480.58 V505.2 H487.63 V498.8 H494.68 V492.5 H501.73 V484.6 H508.77 V474.7 H515.82 V468.6 H522.87 V457.6 H529.92 V446 H536.97 V435.2 H544.02 V423.1 H551.07 V413.4 H558.11 V406.4 H565.16 V394 H572.21 V390.8 H579.26 V396 H586.31 V416.3 H593.36 V438.6 H600.41 V492.5 H607.45 V525.4 H614.5 V529.2 H621.55 V532.5 H628.6 V532.5" fill="none" stroke="#3b82d6" stroke-width="1.15"/>
<path d="M381.9 527.3 H388.95" stroke="#000" stroke-width="1"/>
<circle cx="385.42" cy="527.3" r="1.95" fill="#000"/>
<path d="M388.95 531.5 H396" stroke="#000" stroke-width="1"/>
<circle cx="392.47" cy="531.5" r="1.95" fill="#000"/>
<path d="M396 530.4 H403.05" stroke="#000" stroke-width="1"/>
<circle cx="399.52" cy="530.4" r="1.95" fill="#000"/>
<path d="M403.05 526.9 H410.09" stroke="#000" stroke-width="1"/>
<circle cx="406.57" cy="526.9" r="1.95" fill="#000"/>
<path d="M410.09 519.6 H417.14" stroke="#000" stroke-width="1"/>
<circle cx="413.62" cy="519.6" r="1.95" fill="#000"/>
<path d="M417.14 507.9 H424.19" stroke="#000" stroke-width="1"/>
<circle cx="420.67" cy="507.9" r="1.95" fill="#000"/>
<path d="M424.19 494.6 H431.24" stroke="#000" stroke-width="1"/>
<circle cx="427.72" cy="494.6" r="1.95" fill="#000"/>
<path d="M431.24 479.6 H438.29" stroke="#000" stroke-width="1"/>
<circle cx="434.76" cy="479.6" r="1.95" fill="#000"/>
<path d="M438.29 462.2 H445.34" stroke="#000" stroke-width="1"/>
<circle cx="441.81" cy="462.2" r="1.95" fill="#000"/>
<path d="M445.34 451.2 H452.39" stroke="#000" stroke-width="1"/>
<circle cx="448.86" cy="451.2" r="1.95" fill="#000"/>
<path d="M452.39 445 H459.43" stroke="#000" stroke-width="1"/>
<circle cx="455.91" cy="445" r="1.95" fill="#000"/>
<path d="M459.43 439.6 H466.48" stroke="#000" stroke-width="1"/>
<circle cx="462.96" cy="439.6" r="1.95" fill="#000"/>
<path d="M466.48 434.5 H473.53" stroke="#000" stroke-width="1"/>
<circle cx="470.01" cy="434.5" r="1.95" fill="#000"/>
<path d="M473.53 432.6 H480.58" stroke="#000" stroke-width="1"/>
<circle cx="477.06" cy="432.6" r="1.95" fill="#000"/>
<path d="M480.58 433.3 H487.63" stroke="#000" stroke-width="1"/>
<circle cx="484.1" cy="433.3" r="1.95" fill="#000"/>
<path d="M487.63 436.4 H494.68" stroke="#000" stroke-width="1"/>
<circle cx="491.15" cy="436.4" r="1.95" fill="#000"/>
<path d="M494.68 442 H501.73" stroke="#000" stroke-width="1"/>
<circle cx="498.2" cy="442" r="1.95" fill="#000"/>
<path d="M501.73 446.4 H508.77" stroke="#000" stroke-width="1"/>
<circle cx="505.25" cy="446.4" r="1.95" fill="#000"/>
<path d="M508.77 452 H515.82" stroke="#000" stroke-width="1"/>
<circle cx="512.3" cy="452" r="1.95" fill="#000"/>
<path d="M515.82 458.2 H522.87" stroke="#000" stroke-width="1"/>
<circle cx="519.35" cy="458.2" r="1.95" fill="#000"/>
<path d="M522.87 464.5 H529.92" stroke="#000" stroke-width="1"/>
<circle cx="526.4" cy="464.5" r="1.95" fill="#000"/>
<path d="M529.92 469.4 H536.97" stroke="#000" stroke-width="1"/>
<circle cx="533.44" cy="469.4" r="1.95" fill="#000"/>
<path d="M536.97 475.7 H544.02" stroke="#000" stroke-width="1"/>
<circle cx="540.49" cy="475.7" r="1.95" fill="#000"/>
<path d="M544.02 480.9 H551.07" stroke="#000" stroke-width="1"/>
<circle cx="547.54" cy="480.9" r="1.95" fill="#000"/>
<path d="M551.07 488.1 H558.11" stroke="#000" stroke-width="1"/>
<circle cx="554.59" cy="488.1" r="1.95" fill="#000"/>
<path d="M558.11 493.6 H565.16" stroke="#000" stroke-width="1"/>
<circle cx="561.64" cy="493.6" r="1.95" fill="#000"/>
<path d="M565.16 498.5 H572.21" stroke="#000" stroke-width="1"/>
<circle cx="568.69" cy="498.5" r="1.95" fill="#000"/>
<path d="M572.21 504.5 H579.26" stroke="#000" stroke-width="1"/>
<circle cx="575.74" cy="504.5" r="1.95" fill="#000"/>
<path d="M579.26 510.6 H586.31" stroke="#000" stroke-width="1"/>
<circle cx="582.78" cy="510.6" r="1.95" fill="#000"/>
<path d="M586.31 517.5 H593.36" stroke="#000" stroke-width="1"/>
<circle cx="589.83" cy="517.5" r="1.95" fill="#000"/>
<path d="M593.36 522.8 H600.41" stroke="#000" stroke-width="1"/>
<circle cx="596.88" cy="522.8" r="1.95" fill="#000"/>
<path d="M600.41 529.2 H607.45" stroke="#000" stroke-width="1"/>
<circle cx="603.93" cy="529.2" r="1.95" fill="#000"/>
<path d="M607.45 532.2 H614.5" stroke="#000" stroke-width="1"/>
<circle cx="610.98" cy="532.2" r="1.95" fill="#000"/>
<path d="M614.5 532.4 H621.55" stroke="#000" stroke-width="1"/>
<circle cx="618.03" cy="532.4" r="1.95" fill="#000"/>
<text x="377.3" y="538.45" font-size="13.8" text-anchor="end">0</text>
<text x="377.3" y="505.65" font-size="13.8" text-anchor="end">0.02</text>
<text x="377.3" y="472.85" font-size="13.8" text-anchor="end">0.04</text>
<text x="377.3" y="440.05" font-size="13.8" text-anchor="end">0.06</text>
<text x="377.3" y="407.25" font-size="13.8" text-anchor="end">0.08</text>
<text x="358.12" y="374.45" font-size="13.8">0.</text>
<path transform="translate(369.63 374.45) scale(0.006738 -0.006738)" d="M515 0V1237L197 1010V1180L530 1409H696V0Z" stroke="#000" stroke-width="0.22" vector-effect="non-scaling-stroke"/>
<text x="350.44" y="341.65" font-size="13.8">0.</text>
<path transform="translate(361.95 341.65) scale(0.006738 -0.006738)" d="M515 0V1237L197 1010V1180L530 1409H696V0Z" stroke="#000" stroke-width="0.22" vector-effect="non-scaling-stroke"/>
<text x="369.63" y="341.65" font-size="13.8">2</text>
<text x="350.44" y="308.85" font-size="13.8">0.</text>
<path transform="translate(361.95 308.85) scale(0.006738 -0.006738)" d="M515 0V1237L197 1010V1180L530 1409H696V0Z" stroke="#000" stroke-width="0.22" vector-effect="non-scaling-stroke"/>
<text x="369.63" y="308.85" font-size="13.8">4</text>
<text x="434.76" y="547.1" font-size="13.8" text-anchor="middle">-0.5</text>
<text x="522.87" y="547.1" font-size="13.8" text-anchor="middle">0</text>
<text x="610.98" y="547.1" font-size="13.8" text-anchor="middle">0.5</text>
<text x="628.7" y="566.1" font-size="13.8" text-anchor="end">Likelihood</text>
<text transform="translate(338.1 293.8) rotate(-90)" font-size="14.1" text-anchor="end">Jets / 0.04</text>
<text x="408" y="321.1" class="b" font-size="13.8" font-weight="bold" font-style="italic">ATLAS</text>
<path d="M404.7 334.9 L410.9 342.7" stroke="#111" stroke-width="1.1" fill="none"/>
<path d="M410.9 342.7 L412.4 330.7 H420.4" stroke="#999" stroke-width="0.8" fill="none"/>
<text x="413.9" y="342.7" font-size="13.8">s</text>
<path d="M425.4 338.3 H431.8 M425.4 340.7 H431.8" stroke="#111" stroke-width="1.05" fill="none"/>
<text x="436.53" y="342.7" font-size="13.8">7 TeV,</text>
<text x="482.9" y="342.7" font-size="13.8">4.6 fb</text>
<text x="516.6" y="335.7" font-size="8.5">-</text>
<path transform="translate(520.2 335.7) scale(0.004150 -0.004150)" d="M515 0V1237L197 1010V1180L530 1409H696V0Z" stroke="#000" stroke-width="0.22" vector-effect="non-scaling-stroke"/>
<text x="406.7" y="363.7" font-size="13.8">p</text>
<text x="413.9" y="370.8" font-size="9.9">T</text>
<text x="424" y="365.1" font-size="13.8">&gt;</text>
<text x="435.4" y="363.7" font-size="13.8">320 GeV</text>
<path d="M408.5 377.9 V387.4 M424 378.1 V387.4" stroke="#222" stroke-width="1" fill="none"/>
<text x="412.7" y="384.9" font-size="12.8" stroke="#000" stroke-width="0.25">η</text>
<text x="429.7" y="386.5" font-size="13">&lt;</text>
<path transform="translate(441.8 385.1) scale(0.006738 -0.006738)" d="M515 0V1237L197 1010V1180L530 1409H696V0Z" stroke="#000" stroke-width="0.22" vector-effect="non-scaling-stroke"/>
<text x="449.47" y="385.1" font-size="13.8">.9</text>
<path d="M534 320.3 h15.5" stroke="#ff1a1a" stroke-width="1.4" stroke-dasharray="1.6 1.7"/>
<path d="M534 343.5 h15.5" stroke="#3b82d6" stroke-width="1.3"/>
<circle cx="542" cy="367.1" r="2" fill="#000"/>
<text x="553" y="323" font-size="11">QCD jets</text>
<text x="553" y="346" font-size="11">W/Z jets</text>
<text x="553.5" y="370.7" font-size="11">Data 20</text>
<path transform="translate(592.03 370.7) scale(0.005371 -0.005371)" d="M515 0V1237L197 1010V1180L530 1409H696V0Z" stroke="#000" stroke-width="0.22" vector-effect="non-scaling-stroke"/>
<path transform="translate(598.14 370.7) scale(0.005371 -0.005371)" d="M515 0V1237L197 1010V1180L530 1409H696V0Z" stroke="#000" stroke-width="0.22" vector-effect="non-scaling-stroke"/>
</svg></body></html>
